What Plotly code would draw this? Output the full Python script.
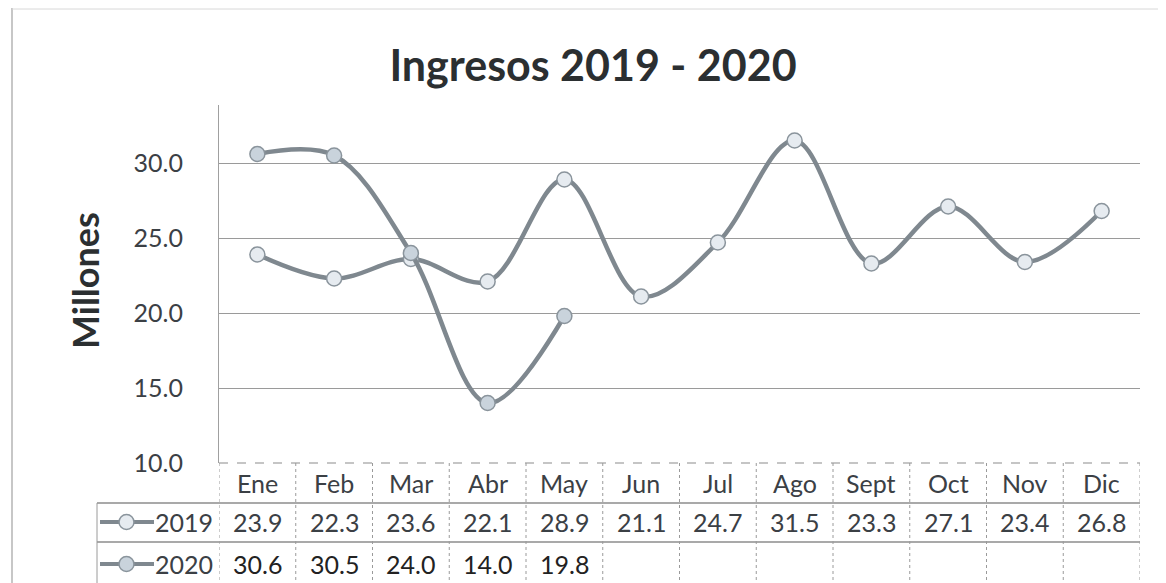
import plotly.graph_objects as go

months = ["Ene", "Feb", "Mar", "Abr", "May", "Jun", "Jul", "Ago", "Sept", "Oct", "Nov", "Dic"]
ingresos_2019 = [23.9, 22.3, 23.6, 22.1, 28.9, 21.1, 24.7, 31.5, 23.3, 27.1, 23.4, 26.8]
ingresos_2020 = [30.6, 30.5, 24.0, 14.0, 19.8]
series_names = ["2019", "2020"]
y_ticks = [10, 15, 20, 25, 30]

# The page adds an 8px body margin; layout is specified in page pixels.
OFF = 8
W, H = 1166, 583
PLOT_L, PLOT_R, PLOT_T, PLOT_B = 219, 1140, 105, 463  # page pixels
L = PLOT_L - OFF
R = W - (PLOT_R - OFF)
T = PLOT_T - OFF
B = H - (PLOT_B - OFF)
PW = PLOT_R - PLOT_L
PH = PLOT_B - PLOT_T
FONT = "Lato, 'Open Sans', sans-serif"
TXT = "#3b4045"
LINE = "#7f888f"
GRID = "#9a9a9a"


def px(xpage):
    return (xpage - PLOT_L) / PW


def py(ypage):
    return (PLOT_B - ypage) / PH


x_idx = list(range(len(months)))

fig = go.Figure()
fig.add_trace(go.Scatter(
    x=x_idx, y=ingresos_2019, mode="lines+markers", name=series_names[0],
    line=dict(color=LINE, width=4.5, shape="spline", smoothing=1.0),
    marker=dict(symbol="circle", size=15, color="#e6ebf0", line=dict(color="#8a949c", width=1.5)),
))
fig.add_trace(go.Scatter(
    x=x_idx[:len(ingresos_2020)], y=ingresos_2020, mode="lines+markers", name=series_names[1],
    line=dict(color=LINE, width=4.5, shape="spline", smoothing=1.0),
    marker=dict(symbol="circle", size=15, color="#c9d3dc", line=dict(color="#8a949c", width=1.5)),
))

shapes = []
annotations = []

# Data table: row centers and borders (page pixels)
header_c, row19_c, row20_c = 483, 522, 564
top_b, mid1_b, mid2_b, bot_b = 463, 503, 542, 590
legend_left = 97
TFS = 25

# horizontal borders
shapes.append(dict(type="line", xref="paper", yref="paper", x0=0, x1=1, y0=py(top_b), y1=py(top_b),
                   line=dict(color="#8c8c8c", width=1.2, dash="dash")))
for yb in (mid1_b, mid2_b):
    shapes.append(dict(type="line", xref="paper", yref="paper", x0=px(legend_left), x1=1, y0=py(yb), y1=py(yb),
                       line=dict(color="#8c8c8c", width=1.4)))
# vertical borders
for i in range(len(months) + 1):
    shapes.append(dict(type="line", xref="x", yref="paper", x0=i - 0.5, x1=i - 0.5, y0=py(top_b), y1=py(bot_b),
                       line=dict(color="#9a9a9a", width=1, dash="dot")))
shapes.append(dict(type="line", xref="paper", yref="paper", x0=px(legend_left), x1=px(legend_left),
                   y0=py(mid1_b), y1=py(bot_b), line=dict(color="#9a9a9a", width=1)))

# outer chart border (left and top)
shapes.append(dict(type="line", xref="paper", yref="paper", x0=px(12), x1=px(12), y0=py(OFF), y1=py(H + OFF),
                   line=dict(color="#b5b5b5", width=1.5)))
shapes.append(dict(type="line", xref="paper", yref="paper", x0=px(12), x1=px(W + OFF), y0=py(9), y1=py(9),
                   line=dict(color="#d8d8d8", width=1)))

# month headers and values
for i, m in enumerate(months):
    annotations.append(dict(x=i, y=py(header_c), xref="x", yref="paper", text=m, showarrow=False,
                            yanchor="middle", font=dict(family=FONT, size=TFS, color=TXT)))
    annotations.append(dict(x=i, y=py(row19_c), xref="x", yref="paper", text=f"{ingresos_2019[i]:.1f}",
                            yanchor="middle", showarrow=False, font=dict(family=FONT, size=TFS, color=TXT)))
    if i < len(ingresos_2020):
        annotations.append(dict(x=i, y=py(row20_c), xref="x", yref="paper", text=f"{ingresos_2020[i]:.1f}",
                                yanchor="middle", showarrow=False, font=dict(family=FONT, size=TFS, color="#222")))

# legend keys inside the table
for name, yc, fill in ((series_names[0], row19_c, "#e6ebf0"), (series_names[1], row20_c, "#c9d3dc")):
    shapes.append(dict(type="line", xref="paper", yref="paper", x0=px(100), x1=px(154), y0=py(yc), y1=py(yc),
                       line=dict(color=LINE, width=4)))
    shapes.append(dict(type="circle", xref="paper", yref="paper", x0=px(119), x1=px(134),
                       y0=py(yc + 7.5), y1=py(yc - 7.5), fillcolor=fill, line=dict(color="#8a949c", width=1.5)))
    annotations.append(dict(x=px(153), y=py(yc), xref="paper", yref="paper", text=name, showarrow=False,
                            xanchor="left", yanchor="middle", font=dict(family=FONT, size=TFS, color=TXT)))

# y-axis title
annotations.append(dict(x=px(85), y=py(281), xref="paper", yref="paper", text="<b>Millones</b>",
                        showarrow=False, textangle=-90, xanchor="center", yanchor="middle",
                        font=dict(family=FONT, size=36, color="#2b2f31")))

fig.update_layout(
    width=W, height=H,
    margin=dict(l=L, r=R, t=T, b=B, autoexpand=False),
    paper_bgcolor="white", plot_bgcolor="white",
    showlegend=False,
    title=dict(text="<b>Ingresos 2019 - 2020</b>", x=(593 - OFF) / W, xref="container", xanchor="center",
               y=1 - (66 - OFF) / H, yref="container", yanchor="middle",
               font=dict(family=FONT, size=43, color="#2b2f31")),
    xaxis=dict(range=[-0.5, len(months) - 0.5], showticklabels=False, showgrid=False, zeroline=False,
               showline=False, fixedrange=True, automargin=False),
    yaxis=dict(range=[10, 10 + PH / 15], tickvals=y_ticks, ticktext=[f"{v:.1f}" for v in y_ticks],
               showgrid=True, gridcolor=GRID, gridwidth=1.2, zeroline=False, automargin=False,
               showline=True, linecolor="#a0a0a0", linewidth=1, ticks="", ticklabelstandoff=30,
               tickfont=dict(family=FONT, size=25, color=TXT)),
    shapes=shapes,
    annotations=annotations,
)

fig.write_html("out.html")
